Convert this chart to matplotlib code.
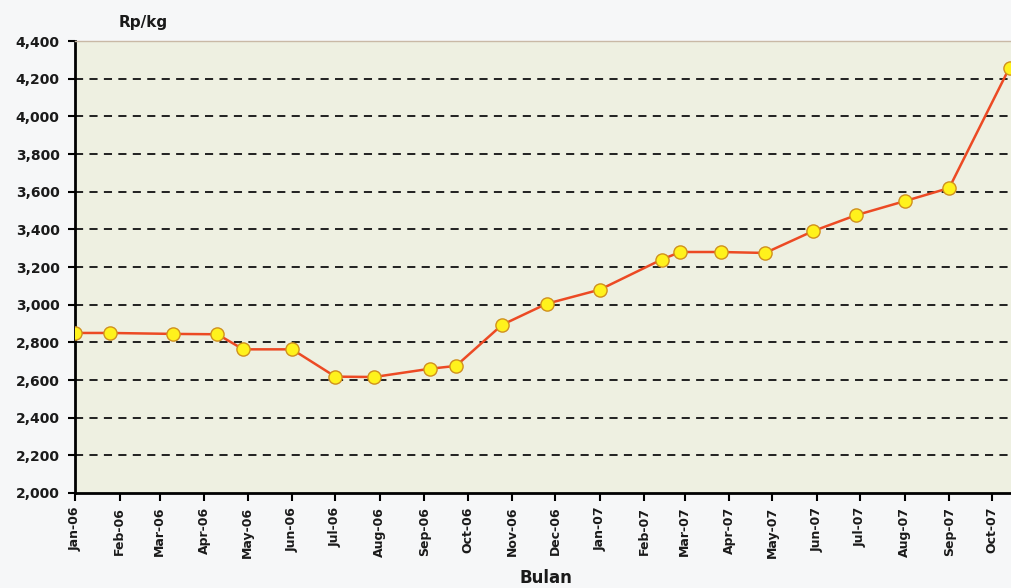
import matplotlib
matplotlib.use("Agg")
import matplotlib.pyplot as plt
import matplotlib.dates as mdates
from matplotlib.ticker import FuncFormatter
import pandas as pd

DATES = ["2006-01-01", "2006-01-25", "2006-03-10", "2006-04-10", "2006-04-28",
         "2006-06-01", "2006-07-01", "2006-07-28", "2006-09-05", "2006-09-23",
         "2006-10-25", "2006-11-25", "2007-01-01", "2007-02-13", "2007-02-26",
         "2007-03-26", "2007-04-26", "2007-05-29", "2007-06-28", "2007-08-01",
         "2007-09-01", "2007-10-13"]
PRICES = [2850, 2850, 2845, 2843, 2763, 2763, 2618, 2616, 2660, 2675,
          2893, 3005, 3080, 3240, 3280, 3280, 3275, 3390, 3475, 3550,
          3620, 4260]
TICK_MONTHS = pd.date_range("2006-01-01", "2007-10-01", freq="MS")
YTICKS = list(range(2000, 4401, 200))


def main():
    dates = pd.to_datetime(DATES)
    fig = plt.figure(figsize=(10.11, 5.88), dpi=100, facecolor="#f6f7f8")
    ax = fig.add_axes([0.0742, 0.1616, 0.9258, 0.7684])
    ax.set_facecolor("#eef0e1")

    for y in YTICKS[1:-1]:
        ax.axhline(y, color="#111111", lw=1.3, ls=(0, (4.5, 3.5)), zorder=1)

    ax.plot(dates, PRICES, color="#ec4a24", lw=1.8, marker="o", ms=9.5,
            mfc="#fff21c", mec="#d0901e", mew=1, zorder=3)

    ax.set_ylim(2000, 4400)
    ax.set_yticks(YTICKS)
    ax.yaxis.set_major_formatter(FuncFormatter(lambda v, p: f"{int(v):,}"))
    ax.set_xlim(pd.Timestamp("2006-01-01"), pd.Timestamp("2007-10-14"))
    ax.set_xticks(TICK_MONTHS)
    ax.xaxis.set_major_formatter(mdates.DateFormatter("%b-%y"))

    for lab in ax.get_yticklabels():
        lab.set_fontweight("bold")
    ax.tick_params(axis="y", labelsize=10, length=5, width=1.5, pad=6,
                   labelcolor="#1a1a1a")
    ax.tick_params(axis="x", labelsize=9, length=6, width=1.5, pad=4,
                   labelrotation=90, labelcolor="#1a1a1a")
    for lab in ax.get_xticklabels():
        lab.set_fontweight("bold")

    ax.spines["right"].set_visible(False)
    ax.spines["top"].set_color("#c9b9a6")
    ax.spines["top"].set_linewidth(1)
    ax.spines["left"].set_linewidth(2)
    ax.spines["bottom"].set_linewidth(2)

    fig.text(0.117, 0.962, "Rp/kg", fontsize=11, fontweight="bold",
             ha="left", va="center", color="#1a1a1a")
    fig.text(0.54, 0.017, "Bulan", fontsize=12, fontweight="bold",
             ha="center", va="center", color="#1a1a1a")

    fig.savefig("out.png", dpi=100, facecolor=fig.get_facecolor())


if __name__ == "__main__":
    main()
